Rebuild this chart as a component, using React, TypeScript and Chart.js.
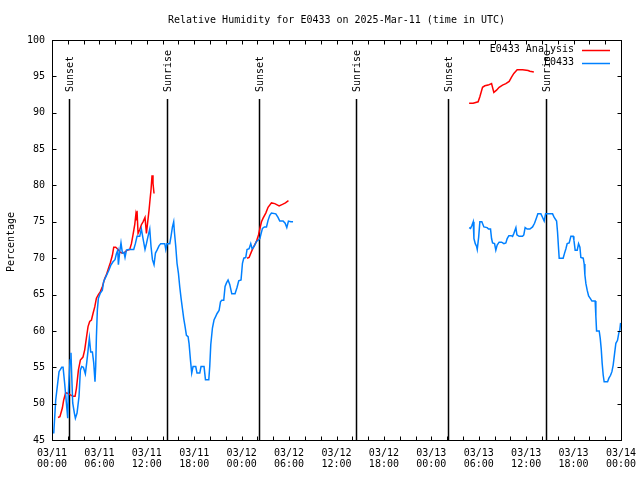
import React, { useEffect, useRef } from 'react';
import { Chart, registerables } from 'chart.js';

Chart.register(...registerables);

const FONT = '"DejaVu Sans Mono", "Liberation Mono", monospace';

const titleText = 'Relative Humidity for E0433 on 2025-Mar-11 (time in UTC)';
const yAxisLabel = 'Percentage';
const seriesNames = ['E0433 Analysis', 'E0433'];
const seriesColors = ['#ff0000', '#0080ff'];

const monthLabel = '03';
const startDay = 11;
const xMin = 0;
const xMax = 72;
const xTickStep = 2;
const xLabelEvery = 6;
const yMin = 45;
const yMax = 100;
const yTickStep = 5;

const sunHours = [2.17, 14.55, 26.2, 38.45, 50.13, 62.55];
const sunLabels = ['Sunset', 'Sunrise', 'Sunset', 'Sunrise', 'Sunset', 'Sunrise'];

// null marks a break in the line
const analysisHours = [
  0.76, 1.0, 1.31, 1.48, 1.73, 2.03, 2.33, 2.66, 2.92, 3.09, 3.34, 3.59, 3.92, 4.14, 4.35, 4.56, 4.77, 4.99,
  5.19, 5.41, 5.62, 5.87, 6.12, 6.38, 6.67, 6.88, 7.14, 7.39, 7.64, 7.81, 8.06, 8.36, 8.66, 8.91, 9.2, 9.5,
  9.84, 10.05, 10.25, 10.47, 10.6, 10.68, 10.76, 10.89, 11.1, 11.31, 11.52, 11.77, 11.95, 12.11, 12.28,
  12.41, 12.53, 12.66, 12.78, 12.91,
  18.0,
  24.68, 24.94, 25.24, 25.53, 25.87, 26.13, 26.29, 26.51, 26.71, 27.05, 27.34, 27.77, 28.19, 28.74, 29.16,
  29.54, 29.92,
  40.0,
  52.78, 53.29, 53.92, 54.14, 54.48, 54.77, 55.19, 55.62, 55.91, 56.25, 56.58, 57.01, 57.43, 57.85, 58.15,
  58.44, 58.86, 59.55, 60.25, 60.47, 60.97,
];
const analysisValues = [
  48.1, 48.2, 49.4, 50.5, 51.5, 51.4, 51.2, 51.0, 51.0, 52.1, 54.6, 56.0, 56.4, 57.4, 59.0, 60.6, 61.3, 61.5,
  62.4, 63.3, 64.5, 65.0, 65.4, 66.1, 67.2, 67.7, 68.6, 69.4, 70.4, 71.5, 71.5, 71.2, 70.8, 70.7, 70.8, 71.1,
  71.2, 72.0, 73.2, 74.6, 75.9, 75.2, 76.5, 73.4, 73.9, 74.6, 75.0, 75.6, 73.4, 75.0, 76.6,
  78.1, 79.4, 81.4, 80.3, 78.9,
  null,
  70.0, 70.1, 70.9, 71.6, 72.3, 73.2, 74.0, 75.0, 75.5, 76.2, 77.0, 77.6, 77.5, 77.2, 77.4,
  77.6, 77.9,
  null,
  91.3, 91.3, 91.5, 92.2, 93.5, 93.7, 93.8, 94.0, 92.8, 93.1, 93.5, 93.8, 94.0, 94.3, 94.9,
  95.4, 95.9, 95.9, 95.8, 95.7, 95.6,
];

const obsHours = [
  0.22, 0.47, 0.89, 1.23, 1.4, 1.6, 1.82, 1.99, 2.07, 2.17, 2.28, 2.4, 2.5, 2.62, 2.83, 2.96, 3.17, 3.42,
  3.59, 3.76, 3.97, 4.22, 4.39, 4.56, 4.73, 4.9, 5.11, 5.28, 5.44, 5.53, 5.62, 5.74, 5.87, 6.12, 6.37, 6.54,
  6.88, 7.18, 7.43, 7.72, 7.97, 8.15, 8.32, 8.4, 8.57, 8.73, 8.91, 9.11, 9.24, 9.42, 9.67, 10.34, 10.55,
  10.76, 11.1, 11.31, 11.52, 11.77, 11.95, 12.15, 12.37, 12.53, 12.71, 12.91, 13.09, 13.29, 13.54, 13.76,
  14.27, 14.4, 14.55, 14.9, 15.06, 15.24, 15.4, 15.49, 15.66, 15.82, 16.0, 16.16, 16.33, 16.5, 16.67, 16.84,
  17.01, 17.22, 17.34, 17.52, 17.68, 17.85, 18.19, 18.35, 18.7, 18.86, 19.24, 19.42, 19.84, 19.96, 20.09,
  20.3, 20.5, 20.72, 20.89, 21.14, 21.32, 21.48, 21.73, 21.9, 22.08, 22.28, 22.49, 22.75, 23.16, 23.42,
  23.63, 23.92, 24.1, 24.27, 24.52, 24.68, 24.94, 25.15, 25.32, 25.57, 25.87, 26.12, 26.3, 26.42, 26.63,
  26.88, 27.14, 27.34, 27.56, 27.77, 28.32, 28.6, 28.82, 29.24, 29.5, 29.71, 29.92, 30.22, 30.5,
  40.0,
  52.78, 52.96, 53.13, 53.3, 53.39, 53.56, 53.73, 53.81, 53.99, 54.14, 54.39, 54.65, 55.06, 55.24, 55.49,
  55.62, 55.75, 56.0, 56.16, 56.33, 56.58, 56.89, 57.18, 57.43, 57.6, 57.81, 58.1, 58.28, 58.44, 58.7,
  58.83, 59.11, 59.54, 59.7, 59.87, 60.13, 60.47, 60.81, 61.06, 61.32, 61.48, 61.86, 62.08, 62.28, 62.46,
  63.34, 63.55, 63.85, 63.97, 64.1, 64.18, 64.68, 64.86, 65.03, 65.19, 65.44, 65.66, 65.95, 66.04, 66.2,
  66.46, 66.63, 66.8, 66.92, 67.22, 67.34, 67.43, 67.56, 67.72, 67.9, 68.15, 68.32, 68.73, 68.82, 68.91,
  69.24, 69.37, 69.5, 69.62, 69.75, 69.87, 70.3, 70.47, 70.68, 70.85, 71.01, 71.19, 71.35, 71.56, 71.72,
  71.85, 71.95,
];
const obsValues = [
  45.9, 50.5, 54.4, 55.0, 55.0, 52.8, 50.1, 48.0, 51.5, 53.7, 56.0, 57.0, 53.7, 50.1, 48.7, 48.0, 48.7, 51.0,
  54.6, 55.1, 55.0, 54.1, 55.6, 57.3, 59.0, 57.1, 57.1, 55.6, 53.0, 55.1, 59.2, 62.9, 64.5, 65.2, 65.6, 66.8,
  67.6, 68.3, 69.0, 69.5, 69.8, 70.6, 71.1, 69.1, 70.9, 72.1, 70.7, 70.8, 70.1, 71.1, 71.2, 71.2, 72.0,
  73.0, 73.0, 74.0, 72.7, 71.2, 72.0, 73.0, 74.0, 71.6, 69.8, 69.1, 70.7, 71.1, 71.7, 72.0,
  72.0, 71.2, 72.0, 72.0, 73.0, 74.3, 75.0, 73.6, 71.6, 69.3, 67.9, 66.1, 64.5, 63.1, 61.7, 60.6,
  59.4, 59.2, 58.3, 56.0, 54.2, 55.1, 55.1, 54.2, 54.2, 55.1, 55.1, 53.3, 53.3, 55.1, 58.1,
  60.4, 61.5, 62.0, 62.4, 62.8, 64.0, 64.2, 64.2, 66.1, 66.6, 67.0, 66.4, 65.1, 65.1, 66.0,
  66.9, 67.0, 69.3, 70.0, 70.1, 71.2, 71.3, 72.0, 71.3, 71.6, 72.3, 72.5, 72.7, 73.2, 74.1,
  74.3, 74.3, 75.2, 75.9, 76.2, 76.1, 75.6, 75.1, 75.1, 74.8, 74.2, 75.1, 75.0, 75.0,
  null,
  74.2, 74.1, 74.5, 75.0, 72.7, 72.0, 71.6, 71.2, 72.9, 75.0, 75.0, 74.3, 74.2, 74.0, 74.0,
  72.7, 72.1, 72.0, 71.1, 71.8, 72.2, 72.2, 72.0, 72.1, 72.7, 73.1, 73.1, 73.0, 73.4, 74.2,
  73.2, 73.0, 73.0, 73.2, 74.2, 74.0, 74.0, 74.3, 74.8, 75.6, 76.1, 76.1, 75.6, 75.1, 76.1,
  76.1, 75.6, 75.1, 73.6, 71.3, 70.0, 70.0, 70.7, 71.3, 72.0, 72.1, 73.0, 73.0, 72.5, 71.1,
  71.1, 72.0, 71.5, 70.1, 70.0, 69.2, 67.7, 66.5, 65.6, 64.8, 64.4, 64.1, 64.1, 62.0, 60.0,
  60.0, 59.0, 57.5, 55.5, 53.9, 53.0, 53.0, 53.5, 53.9, 54.4, 55.3, 56.9, 58.3, 58.7, 59.7,
  60.1, 61.1,
];

function toPoints(hours: number[], values: (number | null)[]) {
  return hours.map((h, i) => ({ x: h, y: values[i] }));
}

function xTickLabel(v: number): string[] | string {
  if (Math.abs(v % xLabelEvery) > 1e-6) return '';
  const day = startDay + Math.floor(v / 24);
  const hh = Math.round(v % 24);
  return [`${monthLabel}/${String(day).padStart(2, '0')}`, `${String(hh).padStart(2, '0')}:00`];
}

const decorPlugin = {
  id: 'gnuplotDecor',
  beforeDatasetsDraw(chart: any) {
    const { ctx, chartArea, scales } = chart;
    const xs = scales.x;
    ctx.save();
    ctx.strokeStyle = '#000';
    ctx.lineWidth = 1.5;
    ctx.fillStyle = '#000';
    ctx.font = `10px ${FONT}`;
    sunHours.forEach((h, i) => {
      const px = Math.round(xs.getPixelForValue(h)) + 0.5;
      ctx.beginPath();
      ctx.moveTo(px, chartArea.top + 59);
      ctx.lineTo(px, chartArea.bottom);
      ctx.stroke();
      ctx.save();
      ctx.translate(px + 0.5, chartArea.top + 52);
      ctx.rotate(-Math.PI / 2);
      ctx.textAlign = 'left';
      ctx.textBaseline = 'middle';
      ctx.fillText(sunLabels[i], 0, 0);
      ctx.restore();
    });
    ctx.restore();
  },
  afterDraw(chart: any) {
    const { ctx, chartArea, scales } = chart;
    const xs = scales.x;
    const ys = scales.y;
    const L = Math.round(chartArea.left) + 0.5;
    const R = Math.round(chartArea.right) + 0.5;
    const T = Math.round(chartArea.top) + 0.5;
    const B = Math.round(chartArea.bottom) + 0.5;
    ctx.save();
    ctx.strokeStyle = '#000';
    ctx.lineWidth = 1;
    ctx.strokeRect(L, T, R - L, B - T);
    ctx.beginPath();
    for (let v = xMin; v <= xMax + 1e-6; v += xTickStep) {
      const px = Math.round(xs.getPixelForValue(v)) + 0.5;
      ctx.moveTo(px, B);
      ctx.lineTo(px, B - 4);
      ctx.moveTo(px, T);
      ctx.lineTo(px, T + 4);
    }
    for (let v = yMin; v <= yMax + 1e-6; v += yTickStep) {
      const py = Math.round(ys.getPixelForValue(v)) + 0.5;
      ctx.moveTo(L, py);
      ctx.lineTo(L + 4, py);
      ctx.moveTo(R, py);
      ctx.lineTo(R - 4, py);
    }
    ctx.stroke();

    ctx.fillStyle = '#000';
    ctx.font = `10px ${FONT}`;
    ctx.textAlign = 'center';
    ctx.textBaseline = 'middle';
    ctx.fillText(titleText, (chartArea.left + chartArea.right) / 2, 20);

    ctx.save();
    ctx.translate(11, 242);
    ctx.rotate(-Math.PI / 2);
    ctx.fillText(yAxisLabel, 0, 0);
    ctx.restore();

    // key
    seriesNames.forEach((name, i) => {
      const y = chartArea.top + 9.5 + i * 13;
      ctx.textAlign = 'right';
      ctx.fillStyle = '#000';
      ctx.fillText(name, chartArea.right - 47, y);
      ctx.strokeStyle = seriesColors[i];
      ctx.lineWidth = 1.5;
      ctx.beginPath();
      ctx.moveTo(chartArea.right - 39, Math.round(y) + 0.5);
      ctx.lineTo(chartArea.right - 11, Math.round(y) + 0.5);
      ctx.stroke();
    });
    ctx.restore();
  },
};

export default function App() {
  const ref = useRef<HTMLCanvasElement | null>(null);
  useEffect(() => {
    document.body.style.margin = '0';
    const canvas = ref.current;
    if (!canvas) return;
    const chart = new Chart(canvas, {
      type: 'line',
      data: {
        datasets: [
          {
            label: seriesNames[0],
            data: toPoints(analysisHours, analysisValues),
            borderColor: seriesColors[0],
            backgroundColor: seriesColors[0],
            borderWidth: 1.5,
            pointRadius: 0,
            spanGaps: false,
            tension: 0,
            order: 1,
          },
          {
            label: seriesNames[1],
            data: toPoints(obsHours, obsValues),
            borderColor: seriesColors[1],
            backgroundColor: seriesColors[1],
            borderWidth: 1.5,
            pointRadius: 0,
            spanGaps: false,
            tension: 0,
            order: 0,
          },
        ],
      },
      options: {
        responsive: false,
        animation: false,
        layout: { padding: { top: 40, right: 19, left: 0, bottom: 0 } },
        plugins: {
          legend: { display: false },
          tooltip: { enabled: false },
          title: { display: false },
        },
        scales: {
          x: {
            type: 'linear',
            min: xMin,
            max: xMax,
            grid: { display: false, drawTicks: false },
            border: { display: false },
            afterFit: (s: any) => {
              s.height = 40;
              s.paddingLeft = 0;
              s.paddingRight = 0;
            },
            ticks: {
              stepSize: xTickStep,
              autoSkip: false,
              maxRotation: 0,
              minRotation: 0,
              padding: 8,
              color: '#000',
              font: { family: FONT, size: 10, lineHeight: 1.1 },
              callback: (v: any) => xTickLabel(Number(v)),
            },
          },
          y: {
            type: 'linear',
            min: yMin,
            max: yMax,
            grid: { display: false, drawTicks: false },
            border: { display: false },
            afterFit: (s: any) => {
              s.width = 52;
              s.paddingTop = 0;
              s.paddingBottom = 0;
            },
            ticks: {
              stepSize: yTickStep,
              padding: 7,
              color: '#000',
              font: { family: FONT, size: 10 },
            },
          },
        },
      },
      plugins: [decorPlugin],
    });
    return () => chart.destroy();
  }, []);
  return (
    <div style={{ position: 'absolute', left: 0, top: 0, width: 640, height: 480, background: '#fff' }}>
      <canvas ref={ref} width={640} height={480} style={{ width: 640, height: 480, display: 'block' }} />
    </div>
  );
}
